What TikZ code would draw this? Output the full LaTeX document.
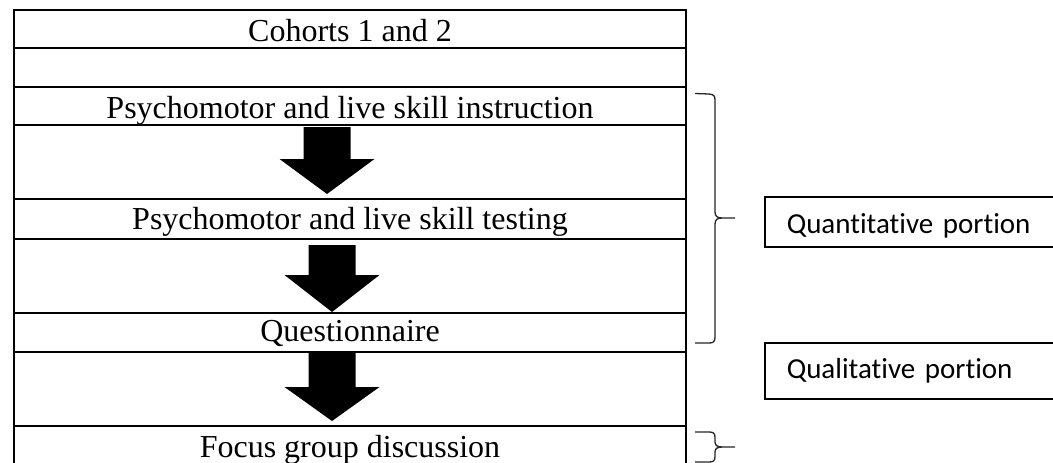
\documentclass[tikz,border=0pt]{standalone}
\usepackage{fontspec}
\setmainfont{Liberation Serif}
\newfontfamily\sansbox[Ligatures=NoCommon]{Carlito}
\begin{document}
\begin{tikzpicture}[x=1pt,y=-1pt,
  cell/.style={draw=black, line width=2.6pt, minimum width=672pt, inner sep=0pt, outer sep=0pt},
  rowtext/.style={anchor=base, inner sep=0pt, font=\fontsize{32}{36}\selectfont},
  blockarr/.style={fill=black},
  brace/.style={draw=black!85, line width=1.3pt},
  portion/.style={draw=black, line width=1.5pt, anchor=north west, minimum width=300pt,
    text width=256pt, inner xsep=22pt, inner ysep=0pt, align=left, text depth=0pt,
    font=\sansbox\fontsize{29}{34}\selectfont}]
\useasboundingbox (0,0) rectangle (1053,463);
\fill[white] (0,0) rectangle (1053,463);
% table cells
\node[cell, minimum height=38pt] (c1) at (350,29) {};
\node[cell, minimum height=39pt] (c2) at (350,67.5) {};
\node[cell, minimum height=38pt] (c3) at (350,106) {};
\node[cell, minimum height=74pt] (c4) at (350,162) {};
\node[cell, minimum height=40pt] (c5) at (350,219) {};
\node[cell, minimum height=74pt] (c6) at (350,276) {};
\node[cell, minimum height=39pt] (c7) at (350,332.5) {};
\node[cell, minimum height=74pt] (c8) at (350,389) {};
\node[cell, minimum height=44pt] (c9) at (350,448) {};
% texts
\node[rowtext] (t1) at (350,41.7) {Cohorts 1 and 2};
\node[rowtext] (t3) at (350,118.3) {Psychomotor and live skill instruction};
\node[rowtext] (t5) at (350,229.5) {Psychomotor and live skill testing};
\node[rowtext] (t7) at (350,341.7) {Questionnaire};
\node[rowtext] (t9) at (350,457) {Focus group discussion};
% block arrows
\fill[blockarr] (303.5,127) -- (350.5,127) -- (350.5,159) -- (374.5,159) -- (327,194) -- (279.5,159) -- (303.5,159) -- cycle;
\fill[blockarr] (308.5,245) -- (355.5,245) -- (355.5,275) -- (379.5,275) -- (332,312) -- (284.5,275) -- (308.5,275) -- cycle;
\fill[blockarr] (308.5,353) -- (355.5,353) -- (355.5,387) -- (379.5,387) -- (332,421) -- (284.5,387) -- (308.5,387) -- cycle;
% braces
\draw[brace] (695,93.5) -- (709,94) .. controls (714,94.5) and (715,96) .. (715,100)
  -- (715,212) .. controls (715,217) and (718,218) .. (723,218) -- (735,218)
  (723,218) .. controls (718,218) and (715,219) .. (715,224)
  -- (715,337) .. controls (715,342) and (713,343) .. (709,343) -- (695,343);
\draw[brace] (695,432) -- (709,432) .. controls (713,432) and (715,433) .. (715,437)
  -- (715,442) .. controls (715,446) and (718,447) .. (723,447) -- (735,447)
  (723,447) .. controls (718,447) and (715,448) .. (715,452)
  -- (715,457) .. controls (715,461) and (713,462) .. (709,462) -- (695,462);
% portion boxes
\node[portion, minimum height=50pt, text height=24pt] (quant) at (764,196) {Quantitative portion};
\node[portion, minimum height=56pt, text height=16pt] (qual) at (764,342) {Qualitative portion};
\end{tikzpicture}
\end{document}
